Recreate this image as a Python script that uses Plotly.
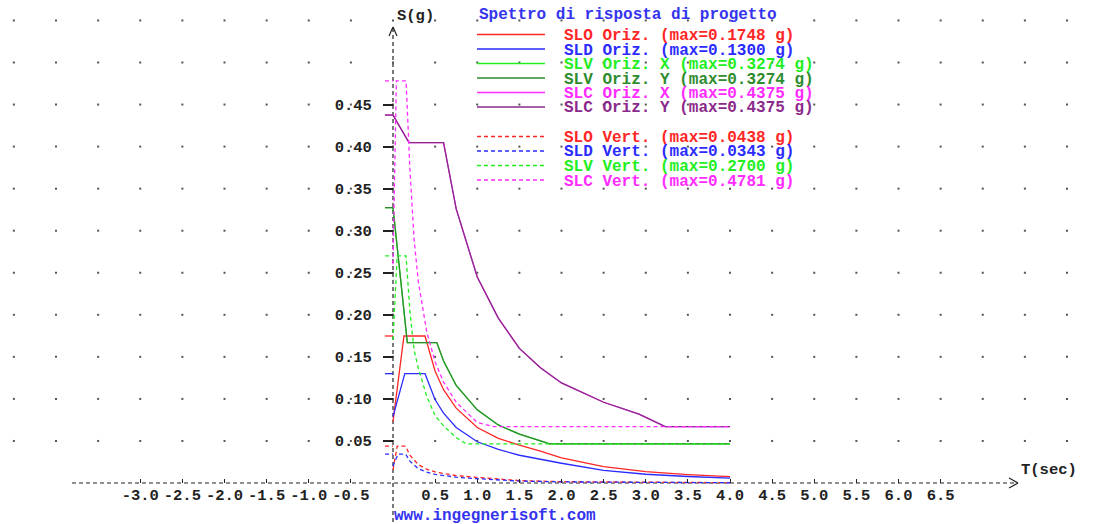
import plotly.graph_objects as go

W, H = 1102, 524
X0, KX = 393.0, 84.25   # pixel of T=0, px per second
Y0, KY = 483.0, 841.0   # pixel of S=0, px per g


def tx(px):
    return (px - X0) / KX


def sy(py):
    return (Y0 - py) / KY


def pp(px, py):
    return px / W, 1 - py / H

# ---------------- data ----------------
SLO_Oriz_T = [0, 0.13, 0.38, 0.5, 0.6, 0.75, 1.0, 1.25, 1.5, 1.75, 2.0, 2.5, 3.0, 3.5, 4.0]
SLO_Oriz_S = [0.073, 0.1748, 0.1748, 0.133, 0.111, 0.089, 0.066, 0.053, 0.045, 0.038, 0.030, 0.0195, 0.0135, 0.0100, 0.0076]

SLD_Oriz_T = [0, 0.14, 0.38, 0.5, 0.6, 0.75, 1.0, 1.25, 1.5, 1.75, 2.0, 2.5, 3.0, 3.5, 4.0]
SLD_Oriz_S = [0.079, 0.1300, 0.1300, 0.099, 0.083, 0.066, 0.049, 0.040, 0.033, 0.028, 0.0235, 0.015, 0.0104, 0.0077, 0.0059]

SLV_Oriz_T = [0, 0.17, 0.52, 0.6, 0.75, 1.0, 1.25, 1.5, 1.75, 1.86, 4.0]
SLV_Oriz_S = [0.3274, 0.167, 0.167, 0.145, 0.116, 0.087, 0.069, 0.058, 0.050, 0.0465, 0.0465]

SLC_Oriz_T = [0, 0.19, 0.60, 0.75, 1.0, 1.25, 1.5, 1.75, 2.0, 2.5, 2.92, 3.23, 4.0]
SLC_Oriz_S = [0.4375, 0.4047, 0.4047, 0.326, 0.245, 0.196, 0.160, 0.137, 0.119, 0.096, 0.082, 0.067, 0.067]

SLO_Vert_T = [0, 0.05, 0.15, 0.2, 0.3, 0.4, 0.5, 0.75, 1.0, 1.5, 2.0, 3.0, 4.0]
SLO_Vert_S = [0.016, 0.0438, 0.0438, 0.033, 0.022, 0.0164, 0.0131, 0.0088, 0.0066, 0.0029, 0.0016, 0.0007, 0.0004]

SLD_Vert_T = [0, 0.06, 0.15, 0.2, 0.3, 0.4, 0.5, 0.75, 1.0, 1.5, 2.0, 3.0, 4.0]
SLD_Vert_S = [0.020, 0.0343, 0.0343, 0.026, 0.017, 0.0129, 0.0103, 0.0069, 0.0051, 0.0023, 0.0013, 0.0006, 0.0003]

SLV_Vert_T = [0, 0.05, 0.155, 0.2, 0.25, 0.3, 0.4, 0.5, 0.6, 0.75, 0.87, 4.0]
SLV_Vert_S = [0.17, 0.2700, 0.2700, 0.205, 0.158, 0.137, 0.103, 0.080, 0.068, 0.054, 0.0465, 0.0465]

SLC_Vert_T = [0, 0.04, 0.155, 0.2, 0.25, 0.3, 0.4, 0.5, 0.6, 0.75, 1.0, 1.2, 4.0]
SLC_Vert_S = [0.26, 0.4781, 0.4781, 0.375, 0.29, 0.24, 0.18, 0.144, 0.12, 0.096, 0.072, 0.067, 0.067]

legend_labels = [
    "SLO Oriz. (max=0.1748 g)",
    "SLD Oriz. (max=0.1300 g)",
    "SLV Oriz. X (max=0.3274 g)",
    "SLV Oriz. Y (max=0.3274 g)",
    "SLC Oriz. X (max=0.4375 g)",
    "SLC Oriz. Y (max=0.4375 g)",
    "SLO Vert. (max=0.0438 g)",
    "SLD Vert. (max=0.0343 g)",
    "SLV Vert. (max=0.2700 g)",
    "SLC Vert. (max=0.4781 g)",
]
max_values = [0.1748, 0.1300, 0.3274, 0.3274, 0.4375, 0.4375, 0.0438, 0.0343, 0.2700, 0.4781]

x_tick_vals = [-3.0, -2.5, -2.0, -1.5, -1.0, -0.5, 0.5, 1.0, 1.5, 2.0, 2.5, 3.0, 3.5, 4.0, 4.5, 5.0, 5.5, 6.0, 6.5]
x_tick_text = ["-3.0", "-2.5", "-2.0", "-1.5", "-1.0", "-0.5", "0.5", "1.0", "1.5", "2.0", "2.5", "3.0", "3.5", "4.0", "4.5", "5.0", "5.5", "6.0", "6.5"]
y_tick_vals = [0.05, 0.10, 0.15, 0.20, 0.25, 0.30, 0.35, 0.40, 0.45]
y_tick_text = ["0.05", "0.10", "0.15", "0.20", "0.25", "0.30", "0.35", "0.40", "0.45"]

grid_T = [-4.5 + 0.5 * i for i in range(26)]
grid_S = [0.05 * j for j in range(1, 12)]

# ---------------- styles ----------------
RED = "#ff2626"
BLUE = "#2b2bff"
LIME = "#22ee22"
GREEN = "#2e8b2e"
MAG = "#ff2bff"
PURP = "#8b2a8b"
FONT = "Liberation Mono, Courier New, monospace"
DASH = "4px,3px"

series = [
    (SLO_Oriz_T, SLO_Oriz_S, RED, "solid"),
    (SLD_Oriz_T, SLD_Oriz_S, BLUE, "solid"),
    (SLV_Oriz_T, SLV_Oriz_S, LIME, "solid"),
    (SLV_Oriz_T, SLV_Oriz_S, GREEN, "solid"),
    (SLC_Oriz_T, SLC_Oriz_S, MAG, "solid"),
    (SLC_Oriz_T, SLC_Oriz_S, PURP, "solid"),
    (SLO_Vert_T, SLO_Vert_S, RED, DASH),
    (SLD_Vert_T, SLD_Vert_S, BLUE, DASH),
    (SLV_Vert_T, SLV_Vert_S, LIME, DASH),
    (SLC_Vert_T, SLC_Vert_S, MAG, DASH),
]

fig = go.Figure()

# grid dots
gx, gy = [], []
for s in grid_S:
    for t in grid_T:
        gx.append(t)
        gy.append(s)
fig.add_trace(go.Scatter(x=gx, y=gy, mode="markers", hoverinfo="skip",
                         marker=dict(size=2, color="#555555", symbol="square", line=dict(width=0)),
                         showlegend=False))

# curves + max markers left of the axis
for (T, S, col, dash), m in zip(series, max_values):
    fig.add_trace(go.Scatter(x=[tx(385), 0], y=[m, m], mode="lines", showlegend=False,
                             line=dict(color=col, width=1.3, dash=dash)))
    fig.add_trace(go.Scatter(x=T, y=S, mode="lines", showlegend=False,
                             line=dict(color=col, width=1.3, dash=dash)))

shapes = []
# dashed axes
shapes.append(dict(type="line", xref="x", yref="y", x0=tx(72), x1=tx(1016), y0=0, y1=0,
                   line=dict(color="#222222", width=1.2, dash=DASH), layer="below"))
shapes.append(dict(type="line", xref="x", yref="y", x0=0, x1=0, y0=sy(28), y1=sy(524),
                   line=dict(color="#222222", width=1.2, dash=DASH), layer="below"))
# arrow heads
for (a, b) in [((389, 36), (393, 27)), ((397, 36), (393, 27)),
               ((1009, 478), (1018, 483)), ((1009, 488), (1018, 483))]:
    x0, y0 = pp(*a)
    x1, y1 = pp(*b)
    shapes.append(dict(type="line", xref="paper", yref="paper", x0=x0, y0=y0, x1=x1, y1=y1,
                       line=dict(color="#222222", width=1.2)))

annotations = []
legend_rows_y = [36, 50.5, 65, 79.5, 94, 108.5, 138, 152.5, 167, 181.5]
line_colors = [RED, BLUE, LIME, GREEN, MAG, PURP, RED, BLUE, LIME, MAG]
line_dashes = ["solid"] * 6 + [DASH] * 4
for lab, yrow, col, dash in zip(legend_labels, legend_rows_y, line_colors, line_dashes):
    x0, y0 = pp(477, yrow - 1.5)
    x1, _ = pp(545, yrow - 1.5)
    shapes.append(dict(type="line", xref="paper", yref="paper", x0=x0, x1=x1, y0=y0, y1=y0,
                       line=dict(color=col, width=1.5, dash=dash)))
    ax, ay = pp(562, yrow)
    annotations.append(dict(x=ax, y=ay, xref="paper", yref="paper", text=lab, showarrow=False,
                            xanchor="left", yanchor="middle",
                            font=dict(family=FONT, size=16, color=col, weight="bold")))

ax, ay = pp(477, 15)
annotations.append(dict(x=ax, y=ay, xref="paper", yref="paper", text="Spettro di risposta di progetto",
                        showarrow=False, xanchor="left", yanchor="middle",
                        font=dict(family=FONT, size=16, color="#3434ee", weight="bold")))
ax, ay = pp(395, 16)
annotations.append(dict(x=ax, y=ay, xref="paper", yref="paper", text="S(g)", showarrow=False,
                        xanchor="left", yanchor="middle",
                        font=dict(family=FONT, size=15.5, color="#222222", weight="bold")))
ax, ay = pp(1019, 470)
annotations.append(dict(x=ax, y=ay, xref="paper", yref="paper", text="T(sec)", showarrow=False,
                        xanchor="left", yanchor="middle",
                        font=dict(family=FONT, size=15.5, color="#222222", weight="bold")))
ax, ay = pp(392, 516)
annotations.append(dict(x=ax, y=ay, xref="paper", yref="paper", text="www.ingegnerisoft.com",
                        showarrow=False, xanchor="left", yanchor="middle",
                        font=dict(family=FONT, size=16, color="#3434ee", weight="bold")))

tickfont = dict(family=FONT, size=15.5, color="#222222", weight="bold")
fig.update_layout(
    width=W, height=H,
    margin=dict(l=0, r=0, t=0, b=0),
    paper_bgcolor="white", plot_bgcolor="white",
    showlegend=False,
    shapes=shapes,
    annotations=annotations,
    xaxis=dict(range=[tx(0), tx(W)], domain=[0, 1], anchor="free", position=(H - Y0) / H,
               showgrid=False, zeroline=False, showline=False,
               tickmode="array", tickvals=x_tick_vals, ticktext=x_tick_text,
               ticks="inside", ticklen=4, tickwidth=1, tickcolor="#222222",
               tickfont=tickfont, ticklabelstandoff=0),
    yaxis=dict(range=[sy(H), sy(0)], domain=[0, 1], anchor="free", position=X0 / W,
               showgrid=False, zeroline=False, showline=False,
               tickmode="array", tickvals=y_tick_vals, ticktext=y_tick_text,
               ticks="outside", ticklen=10, tickwidth=1.5, tickcolor="#222222",
               tickfont=tickfont, ticklabelstandoff=8),
)

fig.write_html("out.html", config={"displayModeBar": False},
               post_script="document.body.style.margin='0';document.body.style.padding='0';document.body.style.overflow='hidden';")
